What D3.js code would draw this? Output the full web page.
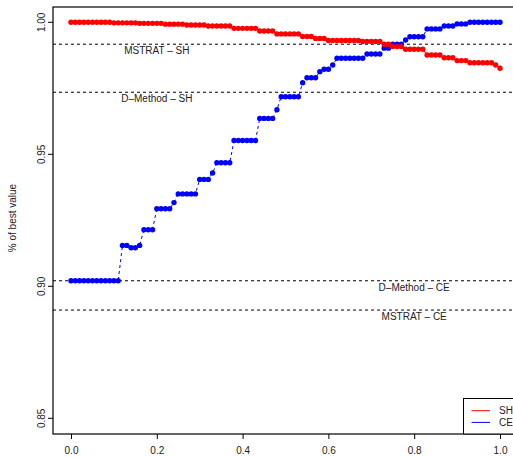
<!DOCTYPE html>
<html>
<head>
<meta charset="utf-8">
<script src="https://cdn.jsdelivr.net/npm/d3@7"></script>
<style>
  body { margin: 0; background: white; }
  svg { font-family: "Liberation Sans", Arial, sans-serif; }
</style>
</head>
<body>
<div id="chart"></div>
<script>
// proportion of selected items, x = 0, 0.01, ..., 1.00
const xs = d3.range(101).map(i => i / 100);

// SH curve
const shValues = [
    1.0000, 1.0000, 1.0000, 1.0000, 1.0000, 1.0000, 1.0000, 1.0000, 1.0000, 1.0000,
    0.9998, 0.9998, 0.9998, 0.9998, 0.9998, 0.9998, 0.9996, 0.9996, 0.9996, 0.9996,
    0.9996, 0.9996, 0.9993, 0.9993, 0.9993, 0.9993, 0.9993, 0.9990, 0.9990, 0.9990,
    0.9990, 0.9990, 0.9986, 0.9986, 0.9986, 0.9986, 0.9986, 0.9986, 0.9977, 0.9977,
    0.9977, 0.9977, 0.9977, 0.9977, 0.9967, 0.9967, 0.9967, 0.9967, 0.9956, 0.9956,
    0.9956, 0.9956, 0.9956, 0.9956, 0.9946, 0.9946, 0.9946, 0.9939, 0.9939, 0.9939,
    0.9931, 0.9931, 0.9931, 0.9931, 0.9931, 0.9931, 0.9931, 0.9931, 0.9927, 0.9927,
    0.9927, 0.9927, 0.9927, 0.9917, 0.9917, 0.9908, 0.9908, 0.9908, 0.9898, 0.9898,
    0.9898, 0.9898, 0.9898, 0.9876, 0.9876, 0.9876, 0.9876, 0.9866, 0.9866, 0.9866,
    0.9855, 0.9855, 0.9855, 0.9847, 0.9847, 0.9847, 0.9847, 0.9847, 0.9847, 0.9838,
    0.9826
];

// CE curve
const ceValues = [
    0.9021, 0.9021, 0.9021, 0.9021, 0.9021, 0.9021, 0.9021, 0.9021, 0.9021, 0.9021,
    0.9021, 0.9021, 0.9155, 0.9155, 0.9146, 0.9146, 0.9155, 0.9214, 0.9214, 0.9214,
    0.9294, 0.9294, 0.9294, 0.9294, 0.9317, 0.9350, 0.9350, 0.9350, 0.9350, 0.9350,
    0.9405, 0.9405, 0.9405, 0.9429, 0.9468, 0.9468, 0.9468, 0.9468, 0.9552, 0.9552,
    0.9552, 0.9552, 0.9552, 0.9552, 0.9636, 0.9636, 0.9636, 0.9636, 0.9669, 0.9718,
    0.9718, 0.9718, 0.9718, 0.9718, 0.9771, 0.9790, 0.9790, 0.9790, 0.9813, 0.9822,
    0.9822, 0.9838, 0.9864, 0.9864, 0.9864, 0.9864, 0.9864, 0.9864, 0.9864, 0.9880,
    0.9880, 0.9880, 0.9880, 0.9902, 0.9902, 0.9917, 0.9917, 0.9917, 0.9933, 0.9945,
    0.9945, 0.9945, 0.9945, 0.9975, 0.9975, 0.9975, 0.9975, 0.9986, 0.9986, 0.9986,
    0.9994, 0.9994, 0.9994, 1.0000, 1.0000, 1.0000, 1.0000, 1.0000, 1.0000, 1.0000,
    1.0000
];

// reference lines
const refLabels = ["MSTRAT \u2013 SH", "D\u2013Method \u2013 SH", "D\u2013Method \u2013 CE", "MSTRAT \u2013 CE"];
const refValues = [0.9917, 0.9735, 0.9021, 0.8910];
const refLabelX = [0.2, 0.2, 0.8, 0.8];

const xTicks = [0, 0.2, 0.4, 0.6, 0.8, 1.0];
const yTicks = [0.85, 0.90, 0.95, 1.00];

const legendLabels = ["SH", "CE"];
const legendColors = ["red", "blue"];

const width = 513, height = 457;
const boxLeft = 53, boxTop = 7, boxBottom = 434, boxRight = 540;

const svg = d3.select("#chart")
    .append("svg")
    .attr("width", width)
    .attr("height", height);

const x = d3.scaleLinear().domain([0, 1]).range([71, 500]);
const y = d3.scaleLinear().domain([0.85, 1]).range([418.3, 22.3]);

// axes
const xAxis = svg.append("g")
    .attr("transform", `translate(0,${boxBottom})`)
    .call(d3.axisBottom(x).tickValues(xTicks).tickFormat(d3.format(".1f")).tickSize(5).tickPadding(8));

const yAxis = svg.append("g")
    .attr("transform", `translate(${boxLeft},0)`)
    .call(d3.axisLeft(y).tickValues(yTicks).tickFormat(d3.format(".2f")).tickSize(5).tickPadding(0));

for (let ax of [xAxis, yAxis]) {
    ax.select(".domain").remove();
    ax.selectAll("line").attr("stroke", "#000");
    ax.selectAll("text")
        .attr("fill", "#222")
        .style("font-size", "10px")
        .style("font-family", "'Liberation Sans', Arial, sans-serif");
}

// rotate y tick labels like R does
yAxis.selectAll("text")
    .attr("transform", d => `translate(-12,${y(d)}) rotate(-90)`)
    .attr("x", 0)
    .attr("y", 0)
    .attr("dy", "0.35em")
    .attr("text-anchor", "middle");
yAxis.selectAll(".tick").attr("transform", null);
yAxis.selectAll(".tick line")
    .attr("y1", d => y(d)).attr("y2", d => y(d));

svg.append("text")
    .attr("transform", `translate(16,218) rotate(-90)`)
    .attr("text-anchor", "middle")
    .attr("fill", "#222")
    .style("font-size", "10px")
    .text("% of best value");

// reference lines + labels
svg.append("g")
    .selectAll("line")
    .data(refValues)
    .join("line")
    .attr("x1", boxLeft)
    .attr("x2", boxRight)
    .attr("y1", d => y(d))
    .attr("y2", d => y(d))
    .attr("stroke", "#000")
    .attr("stroke-width", 1)
    .attr("stroke-dasharray", "3,3");

svg.append("g")
    .selectAll("text")
    .data(refLabels)
    .join("text")
    .attr("x", (d, i) => x(refLabelX[i]))
    .attr("y", (d, i) => y(refValues[i]) + 10)
    .attr("text-anchor", "middle")
    .attr("fill", "#222")
    .style("font-size", "10px")
    .text(d => d);

// series
const series = [
    { values: ceValues, color: "blue" },
    { values: shValues, color: "red" }
];

const line = d3.line()
    .x((d, i) => x(xs[i]))
    .y(d => y(d));

for (let s of series) {
    svg.append("path")
        .datum(s.values)
        .attr("d", line)
        .attr("fill", "none")
        .attr("stroke", s.color)
        .attr("stroke-width", 1)
        .attr("stroke-dasharray", "3,3");

    svg.append("g")
        .selectAll("circle")
        .data(s.values)
        .join("circle")
        .attr("cx", (d, i) => x(xs[i]))
        .attr("cy", d => y(d))
        .attr("r", 2.7)
        .attr("fill", s.color);
}

// plot box
svg.append("rect")
    .attr("x", boxLeft)
    .attr("y", boxTop)
    .attr("width", boxRight - boxLeft)
    .attr("height", boxBottom - boxTop)
    .attr("fill", "none")
    .attr("stroke", "#000")
    .attr("stroke-width", 1.2);

// legend
const legend = svg.append("g");
legend.append("rect")
    .attr("x", 463.5)
    .attr("y", 398.5)
    .attr("width", 80)
    .attr("height", boxBottom - 398.5)
    .attr("fill", "white")
    .attr("stroke", "#000")
    .attr("stroke-width", 1);

legendLabels.forEach((lab, i) => {
    const ly = 410.7 + i * 11.7;
    legend.append("line")
        .attr("x1", 471.5).attr("x2", 490)
        .attr("y1", ly).attr("y2", ly)
        .attr("stroke", legendColors[i])
        .attr("stroke-width", 1);
    legend.append("text")
        .attr("x", 499)
        .attr("y", ly)
        .attr("dy", "0.35em")
        .attr("fill", "#222")
        .style("font-size", "10px")
        .text(lab);
});
</script>
</body>
</html>
